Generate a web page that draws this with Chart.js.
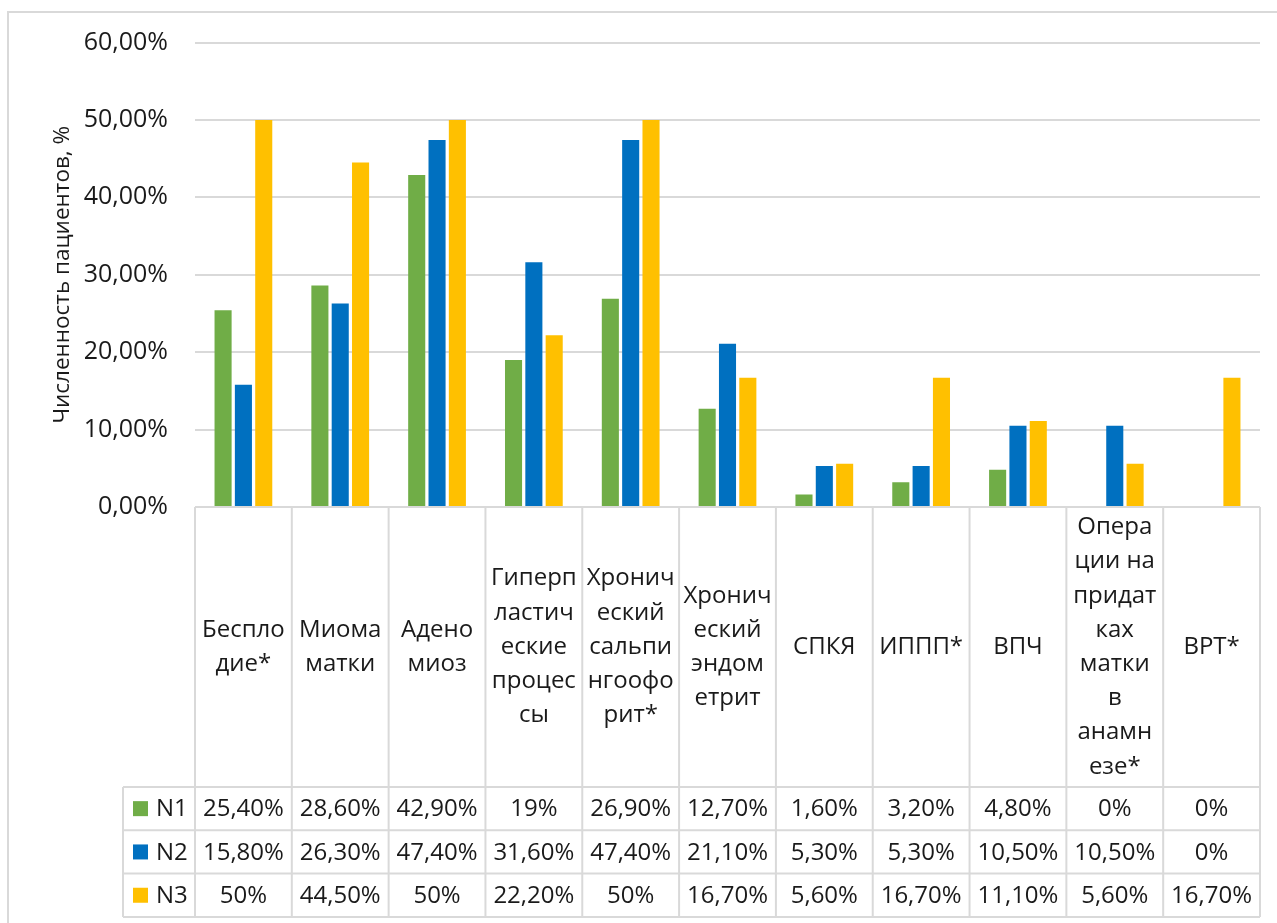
<!DOCTYPE html>
<html>
<head>
<meta charset="utf-8">
<script src="https://cdn.jsdelivr.net/npm/chart.js@4.4.1/dist/chart.umd.min.js"></script>
<style>
  html, body { margin: 0; padding: 0; background: #fff; }
  #wrap { width: 1277px; height: 923px; position: relative; }
</style>
</head>
<body>
<div id="wrap"><canvas id="c" width="1277" height="923"></canvas></div>
<script>
const categories = [
  ["Беспло","дие*"],
  ["Миома","матки"],
  ["Адено","миоз"],
  ["Гиперп","ластич","еские","процес","сы"],
  ["Хронич","еский","сальпи","нгоофо","рит*"],
  ["Хронич","еский","эндом","етрит"],
  ["СПКЯ"],
  ["ИППП*"],
  ["ВПЧ"],
  ["Опера","ции на","придат","ках","матки","в","анамн","езе*"],
  ["ВРТ*"]
];
const seriesNames = ["N1", "N2", "N3"];
const n1 = [25.4, 28.6, 42.9, 19, 26.9, 12.7, 1.6, 3.2, 4.8, 0, 0];
const n2 = [15.8, 26.3, 47.4, 31.6, 47.4, 21.1, 5.3, 5.3, 10.5, 10.5, 0];
const n3 = [50, 44.5, 50, 22.2, 50, 16.7, 5.6, 16.7, 11.1, 5.6, 16.7];
const colors = ["#70AD47", "#0070C0", "#FFC000"];
const yTicks = [0, 10, 20, 30, 40, 50, 60];
const yTitle = "Численность пациентов, %";

const FONT = "'Open Sans', 'Noto Sans', sans-serif";
const TEXT = "#1a1a1a";
const GRID = "#d9d9d9";

function fmtPct(v) {
  return Number.isInteger(v) ? v + "%" : v.toFixed(2).replace(".", ",") + "%";
}
function fmtTick(v) {
  return v.toFixed(2).replace(".", ",") + "%";
}

const allSeries = [n1, n2, n3];

const tablePlugin = {
  id: "dataTable",
  afterDraw(chart) {
    const ctx = chart.ctx;
    const xs = chart.scales.x;
    const area = chart.chartArea;
    const n = categories.length;
    const step = (area.right - area.left) / n;
    const top = area.bottom;
    const headerBottom = 787;
    const rowH = 43.3;
    const tableLeft = 123;
    const tableBottom = headerBottom + rowH * 3;

    ctx.save();
    ctx.strokeStyle = GRID;
    ctx.lineWidth = 2;
    ctx.beginPath();
    ctx.moveTo(8, 923);
    ctx.lineTo(8, 12);
    ctx.lineTo(1277, 12);
    ctx.stroke();

    ctx.beginPath();
    ctx.moveTo(area.left, top); ctx.lineTo(area.right, top);
    for (let i = 0; i <= n; i++) {
      const x = xs.getPixelForValue(i) - step / 2;
      ctx.moveTo(x, top); ctx.lineTo(x, tableBottom);
    }
    ctx.moveTo(tableLeft, headerBottom); ctx.lineTo(tableLeft, tableBottom);
    for (let r = 0; r <= 3; r++) {
      const y = headerBottom + rowH * r;
      ctx.moveTo(tableLeft, y); ctx.lineTo(area.right, y);
    }
    ctx.stroke();

    ctx.fillStyle = TEXT;
    ctx.font = "24px " + FONT;
    ctx.textAlign = "center";
    ctx.textBaseline = "middle";
    const lh = 34.2;
    const hMid = (top + headerBottom) / 2;
    categories.forEach((lines, i) => {
      const cx = xs.getPixelForValue(i);
      const y0 = hMid - (lines.length - 1) * lh / 2;
      lines.forEach((t, k) => ctx.fillText(t, cx, y0 + k * lh));
    });

    allSeries.forEach((data, r) => {
      const cy = headerBottom + rowH * r + rowH / 2;
      ctx.fillStyle = colors[r];
      ctx.fillRect(133, cy - 7.5, 15, 15);
      ctx.fillStyle = TEXT;
      ctx.textAlign = "left";
      ctx.fillText(seriesNames[r], 156, cy + 1);
      ctx.textAlign = "center";
      data.forEach((v, i) => {
        ctx.fillText(fmtPct(v), xs.getPixelForValue(i), cy + 1);
      });
    });
    ctx.restore();
  }
};

new Chart(document.getElementById("c"), {
  type: "bar",
  data: {
    labels: categories.map(l => l.join(" ")),
    datasets: allSeries.map((d, i) => ({
      label: seriesNames[i],
      data: d,
      backgroundColor: colors[i],
      borderWidth: 0,
      categoryPercentage: 0.63,
      barPercentage: 0.84
    }))
  },
  options: {
    responsive: false,
    animation: false,
    events: [],
    layout: { padding: { left: 0, top: 42.5, right: 17, bottom: 416 } },
    plugins: { legend: { display: false }, tooltip: { enabled: false } },
    scales: {
      x: { display: false },
      y: {
        min: 0, max: 60,
        afterFit(scale) { scale.width = 195; },
        afterBuildTicks(scale) { scale.ticks = yTicks.map(v => ({ value: v })); },
        grid: { color: GRID, lineWidth: 2, drawTicks: false },
        border: { display: false },
        ticks: {
          padding: 27,
          color: TEXT,
          font: { family: FONT, size: 25 },
          callback: v => fmtTick(v)
        },
        title: {
          display: true,
          text: yTitle,
          color: TEXT,
          font: { family: FONT, size: 22.5 },
          padding: { top: 49, bottom: 0 }
        }
      }
    }
  },
  plugins: [tablePlugin]
});
</script>
</body>
</html>
